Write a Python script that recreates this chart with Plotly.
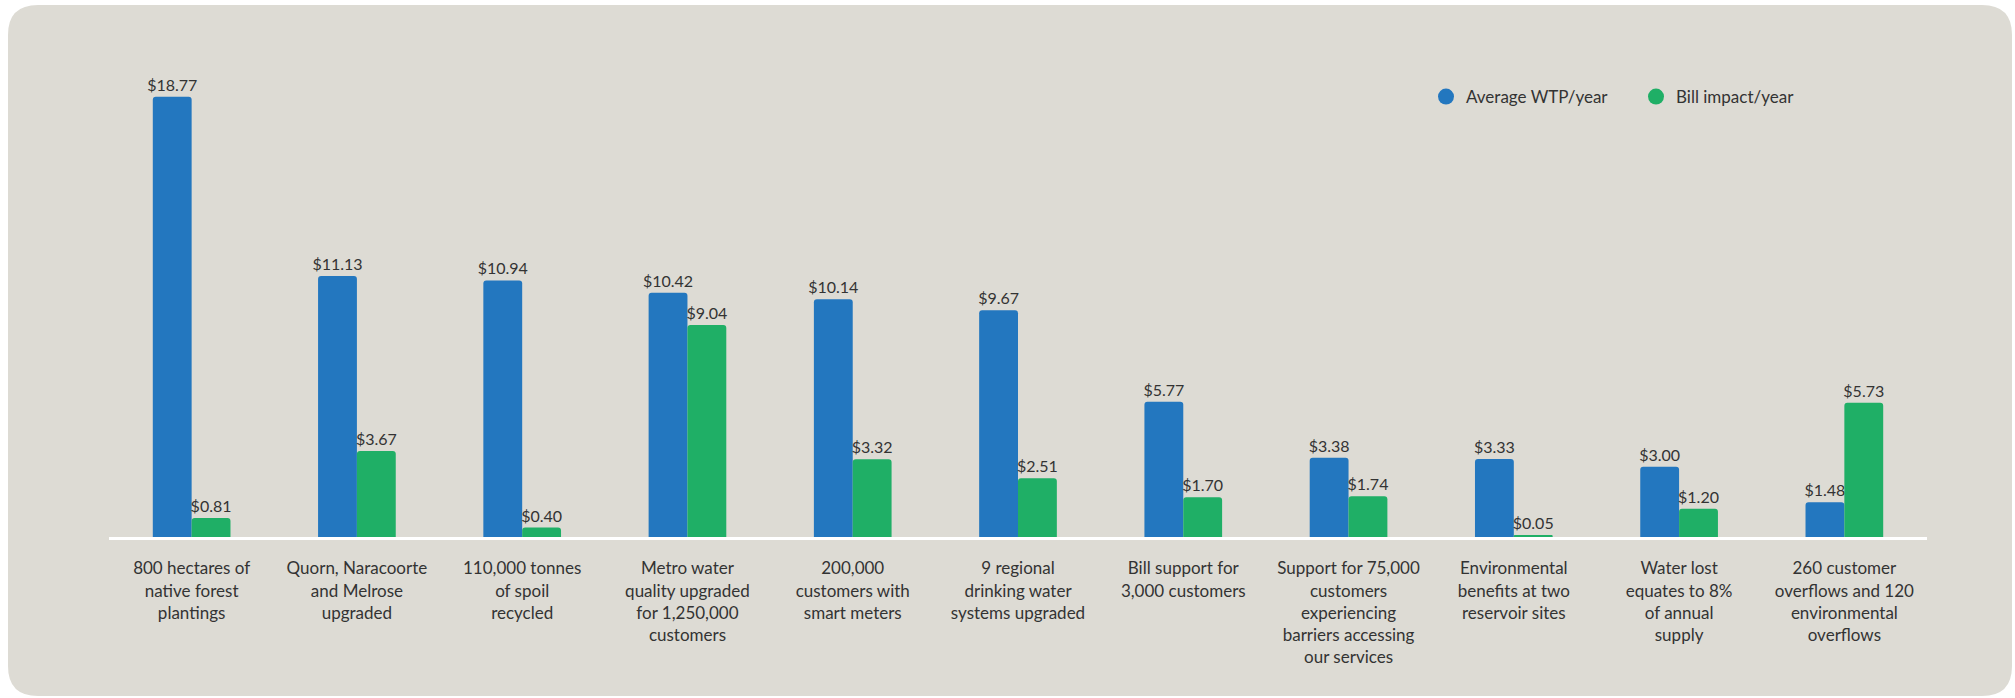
import plotly.graph_objects as go

categories = [
    "800 hectares of<br>native forest<br>plantings",
    "Quorn, Naracoorte<br>and Melrose<br>upgraded",
    "110,000 tonnes<br>of spoil<br>recycled",
    "Metro water<br>quality upgraded<br>for 1,250,000<br>customers",
    "200,000<br>customers with<br>smart meters",
    "9 regional<br>drinking water<br>systems upgraded",
    "Bill support for<br>3,000 customers",
    "Support for 75,000<br>customers<br>experiencing<br>barriers accessing<br>our services",
    "Environmental<br>benefits at two<br>reservoir sites",
    "Water lost<br>equates to 8%<br>of annual<br>supply",
    "260 customer<br>overflows and 120<br>environmental<br>overflows",
]
avg_wtp = [18.77, 11.13, 10.94, 10.42, 10.14, 9.67, 5.77, 3.38, 3.33, 3.00, 1.48]
bill_impact = [0.81, 3.67, 0.40, 9.04, 3.32, 2.51, 1.70, 1.74, 0.05, 1.20, 5.73]
series_names = ["Average WTP/year", "Bill impact/year"]

BLUE = "#2377bf"
GREEN = "#1faf66"
TEXT = "#333333"
CARD = "#dddbd4"
FONT = "Lato"

W, H = 2015, 698
ML, MR, MT, MB = 109, 88, 68, 161
PW = W - ML - MR
PH = H - MT - MB

def px(x):
    return (x - ML) / PW

def py(y):
    return (H - MB - y) / PH

fig = go.Figure()
for name, vals, col in [(series_names[0], avg_wtp, BLUE), (series_names[1], bill_impact, GREEN)]:
    fig.add_trace(go.Bar(
        x=categories, y=vals, name=name,
        marker=dict(color=col, line=dict(width=0), cornerradius=3),
        texttemplate="$%{y:.2f}", textposition="outside", textangle=0,
        constraintext="none", cliponaxis=False,
        textfont=dict(family=FONT, size=16, color=TEXT),
        showlegend=False, hoverinfo="skip",
    ))
    fig.add_trace(go.Scatter(
        x=[None], y=[None], mode="markers", name=name,
        marker=dict(color=col, size=20, symbol="circle"),
        showlegend=True,
    ))

# rounded card background
x0, x1, y0, y1, r = 8, 2012, 5, 696, 30
def P(x, y):
    return f"{px(x):.5f},{py(y):.5f}"
path = (
    f"M {P(x0 + r, y0)} L {P(x1 - r, y0)} Q {P(x1, y0)} {P(x1, y0 + r)} "
    f"L {P(x1, y1 - r)} Q {P(x1, y1)} {P(x1 - r, y1)} "
    f"L {P(x0 + r, y1)} Q {P(x0, y1)} {P(x0, y1 - r)} "
    f"L {P(x0, y0 + r)} Q {P(x0, y0)} {P(x0 + r, y0)} Z"
)
fig.add_shape(type="path", path=path, xref="paper", yref="paper",
              fillcolor=CARD, line=dict(width=0), layer="below")

fig.update_layout(
    width=W, height=H,
    margin=dict(l=ML, r=MR, t=MT, b=MB, pad=0),
    paper_bgcolor="white", plot_bgcolor="rgba(0,0,0,0)",
    barmode="group", bargap=0.53, bargroupgap=0,
    font=dict(family=FONT, color=TEXT, size=17),
    legend=dict(orientation="h", x=px(1426), y=py(97), xanchor="left", yanchor="middle",
                font=dict(family=FONT, size=17, color=TEXT),
                bgcolor="rgba(0,0,0,0)", itemsizing="trace", entrywidth=165),
    xaxis=dict(showline=True, linecolor="white", linewidth=3, showgrid=False,
               ticks="outside", ticklen=14, tickcolor="rgba(0,0,0,0)",
               tickfont=dict(family=FONT, size=17, color=TEXT), tickangle=0),
    yaxis=dict(range=[0, 20], visible=False, showgrid=False, zeroline=False),
)

fig.write_html("out.html")
